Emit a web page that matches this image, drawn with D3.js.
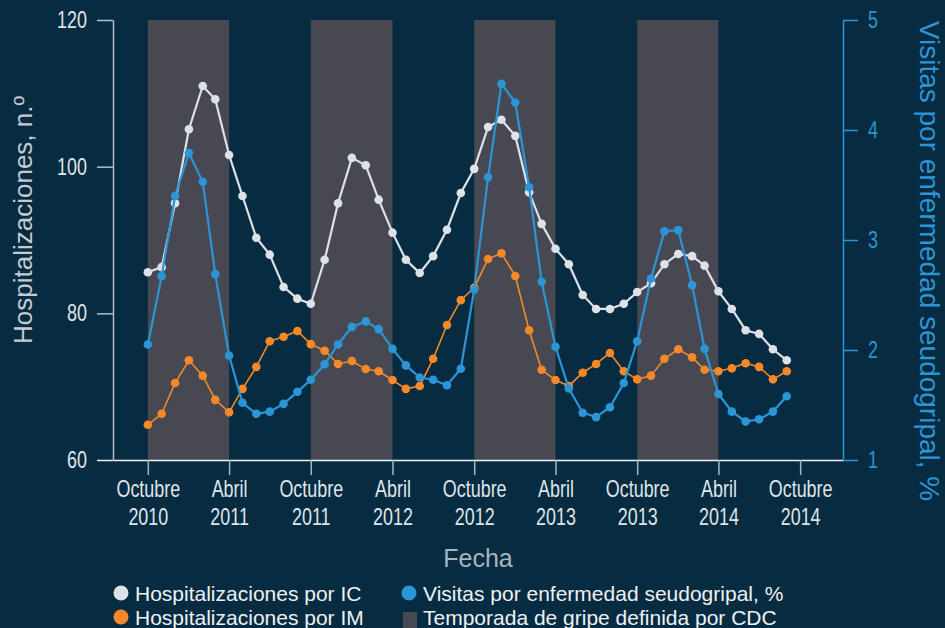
<!DOCTYPE html>
<html>
<head>
<meta charset="utf-8">
<script src="https://cdn.jsdelivr.net/npm/d3@7"></script>
<style>
  html, body { margin: 0; padding: 0; background: #072b40; }
  svg { display: block; }
</style>
</head>
<body>
<svg id="chart" width="945" height="628"></svg>
<script>
// monthly values, Oct 2010 .. Sep 2014
const startMonth = new Date(2010, 9, 1);
const hfHosp = [85.6, 86.3, 95.0, 105.1, 111.0, 109.2, 101.6, 96.0, 90.3, 88.0, 83.6, 82.0,
                81.3, 87.3, 95.0, 101.2, 100.2, 95.5, 91.0, 87.3, 85.5, 87.8, 91.4, 96.4,
                99.7, 105.4, 106.4, 104.2, 96.5, 92.2, 88.8, 86.7, 82.5, 80.6, 80.6, 81.3,
                82.9, 84.1, 86.7, 88.1, 87.8, 86.5, 83.0, 80.6, 77.7, 77.2, 75.1, 73.6];
const miHosp = [64.8, 66.3, 70.5, 73.6, 71.5, 68.2, 66.5, 69.7, 72.7, 76.2, 76.8, 77.6,
                75.8, 74.9, 73.1, 73.5, 72.4, 72.1, 70.9, 69.7, 70.1, 73.8, 78.4, 81.8,
                83.5, 87.4, 88.2, 85.1, 77.7, 72.3, 70.9, 70.1, 71.9, 73.1, 74.6, 72.1,
                71.0, 71.5, 73.8, 75.1, 74.0, 72.3, 72.1, 72.5, 73.2, 72.7, 71.0, 72.1];
const iliPct = [2.05, 2.67, 3.40, 3.79, 3.53, 2.69, 1.95, 1.52, 1.42, 1.44, 1.51, 1.62,
                1.73, 1.87, 2.05, 2.21, 2.26, 2.19, 2.01, 1.86, 1.75, 1.73, 1.68, 1.83,
                2.55, 3.57, 4.42, 4.25, 3.48, 2.62, 2.03, 1.65, 1.43, 1.39, 1.48, 1.70,
                2.08, 2.65, 3.08, 3.09, 2.59, 2.01, 1.60, 1.44, 1.35, 1.37, 1.44, 1.58];

// CDC flu seasons (October to April)
const seasons = [["2010-10-01", "2011-04-01"], ["2011-10-01", "2012-04-01"],
                 ["2012-10-01", "2013-04-01"], ["2013-10-01", "2014-04-01"]];

const xTicks = ["2010-10-01", "2011-04-01", "2011-10-01", "2012-04-01", "2012-10-01",
                "2013-04-01", "2013-10-01", "2014-04-01", "2014-10-01"];
const xTickMonth = ["Octubre", "Abril", "Octubre", "Abril", "Octubre", "Abril", "Octubre", "Abril", "Octubre"];
const xTickYear = ["2010", "2011", "2011", "2012", "2012", "2013", "2013", "2014", "2014"];
const leftTicks = [60, 80, 100, 120];
const rightTicks = [1, 2, 3, 4, 5];

const legendItems = [
    {label: "Hospitalizaciones por IC", color: "#dde2e7", shape: "circle"},
    {label: "Hospitalizaciones por IM", color: "#f5892a", shape: "circle"},
    {label: "Visitas por enfermedad seudogripal, %", color: "#2b95d6", shape: "circle"},
    {label: "Temporada de gripe definida por CDC", color: "#474852", shape: "square"}
];

const colors = {hf: "#dde2e7", mi: "#f5892a", ili: "#2b95d6", band: "#474852"};
const textFont = "'Liberation Sans', Arial, sans-serif";
// tick labels use a narrow face: squeeze Liberation Sans horizontally
const narrow = 0.78;
const tickSize = 23;

const parse = d3.timeParse("%Y-%m-%d");
const months = d3.timeMonth.range(startMonth, d3.timeMonth.offset(startMonth, hfHosp.length));

const svg = d3.select("#chart");
const margin = {top: 20, right: 102, bottom: 168, left: 113};
const width = 945 - margin.left - margin.right,
      height = 628 - margin.top - margin.bottom;

const x = d3.scaleTime()
    .domain([new Date(2010, 6, 15), new Date(2015, 0, 5)])
    .range([0, width]);
const yL = d3.scaleLinear().domain([60, 120]).range([height, 0]);
const yR = d3.scaleLinear().domain([1, 5]).range([height, 0]);

const g = svg.append("g")
    .attr("transform", "translate(" + margin.left + "," + margin.top + ")");

// flu season bands
g.selectAll(".band")
    .data(seasons)
  .enter().append("rect")
    .attr("class", "band")
    .attr("x", d => x(parse(d[0])))
    .attr("width", d => x(parse(d[1])) - x(parse(d[0])))
    .attr("y", 0)
    .attr("height", height)
    .attr("fill", colors.band);

// x axis
const xAxis = g.append("g")
    .attr("transform", "translate(0," + height + ")")
    .call(d3.axisBottom(x).tickValues(xTicks.map(parse)).tickSize(15).tickSizeOuter(0).tickFormat(""));
xAxis.select(".domain").attr("stroke", "#eef1f3").attr("stroke-width", 1.5);
xAxis.selectAll(".tick line").attr("stroke", "#aab6be").attr("stroke-width", 1.5);
xAxis.selectAll(".tick").each(function(d, i) {
    const t = d3.select(this).append("text")
        .attr("transform", "scale(" + narrow + ",1)")
        .attr("fill", "#dfe5ea")
        .attr("font-family", textFont)
        .attr("font-size", tickSize)
        .attr("text-anchor", "middle");
    t.append("tspan").attr("x", 0).attr("y", 37).text(xTickMonth[i]);
    t.append("tspan").attr("x", 0).attr("y", 65).text(xTickYear[i]);
});

// left axis
const leftAxis = g.append("g")
    .call(d3.axisLeft(yL).tickValues(leftTicks).tickSize(16).tickSizeOuter(0));
leftAxis.select(".domain").attr("stroke", "#b4c0c8").attr("stroke-width", 1.5);
leftAxis.selectAll(".tick line").attr("stroke", "#b4c0c8").attr("stroke-width", 1.5);
leftAxis.selectAll(".tick text")
    .attr("transform", "scale(" + narrow + ",1)")
    .attr("x", -26 / narrow)
    .attr("fill", "#dfe5ea").attr("font-family", textFont).attr("font-size", tickSize);
leftAxis.select(".tick:first-of-type line").attr("stroke", "#eef1f3");

// right axis
const rightAxis = g.append("g")
    .attr("transform", "translate(" + width + ",0)")
    .call(d3.axisRight(yR).tickValues(rightTicks).tickFormat(d3.format("d")).tickSize(15).tickSizeOuter(0));
rightAxis.select(".domain").attr("stroke", colors.ili).attr("stroke-width", 1.5);
rightAxis.selectAll(".tick line").attr("stroke", colors.ili).attr("stroke-width", 1.5);
rightAxis.selectAll(".tick text")
    .attr("transform", "scale(" + narrow + ",1)")
    .attr("x", 25 / narrow)
    .attr("fill", colors.ili).attr("font-family", textFont).attr("font-size", tickSize);

// series
const series = [
    {values: hfHosp, y: yL, color: colors.hf, lw: 2.2},
    {values: miHosp, y: yL, color: colors.mi, lw: 1.6},
    {values: iliPct, y: yR, color: colors.ili, lw: 2.2}
];

series.forEach(s => {
    const pts = s.values.map((v, i) => ({date: months[i], value: v}));
    const line = d3.line().x(d => x(d.date)).y(d => s.y(d.value));
    g.append("path")
        .datum(pts)
        .attr("fill", "none")
        .attr("stroke", s.color)
        .attr("stroke-width", s.lw)
        .attr("d", line);
    g.selectAll(null)
        .data(pts)
      .enter().append("circle")
        .attr("cx", d => x(d.date))
        .attr("cy", d => s.y(d.value))
        .attr("r", 4.3)
        .attr("fill", s.color);
});

// axis titles
svg.append("text")
    .attr("transform", "translate(32,220) rotate(-90)")
    .attr("text-anchor", "middle")
    .attr("fill", "#c3ccd2")
    .attr("font-family", textFont)
    .attr("font-size", 26)
    .text("Hospitalizaciones, n.º");

svg.append("text")
    .attr("transform", "translate(920,261) rotate(90)")
    .attr("text-anchor", "middle")
    .attr("fill", colors.ili)
    .attr("font-family", textFont)
    .attr("font-size", 28)
    .text("Visitas por enfermedad seudogripal, %");

svg.append("text")
    .attr("x", 478)
    .attr("y", 567)
    .attr("text-anchor", "middle")
    .attr("fill", "#a9b5bd")
    .attr("font-family", textFont)
    .attr("font-size", 25)
    .text("Fecha");

// legend
const legendPos = [[121, 601], [121, 625], [409, 601], [409, 625]];
const legend = svg.selectAll(".legend")
    .data(legendItems)
  .enter().append("g")
    .attr("class", "legend")
    .attr("transform", (d, i) => "translate(" + legendPos[i][0] + "," + legendPos[i][1] + ")");
legend.filter(d => d.shape === "circle").append("circle")
    .attr("cx", 0).attr("cy", -8).attr("r", 7.5).attr("fill", d => d.color);
legend.filter(d => d.shape === "square").append("rect")
    .attr("x", -6).attr("y", -13).attr("width", 14).attr("height", 16).attr("fill", d => d.color);
legend.append("text")
    .attr("x", 14)
    .attr("fill", "#eef1f3")
    .attr("font-family", textFont)
    .attr("font-size", 21)
    .text(d => d.label);
</script>
</body>
</html>
